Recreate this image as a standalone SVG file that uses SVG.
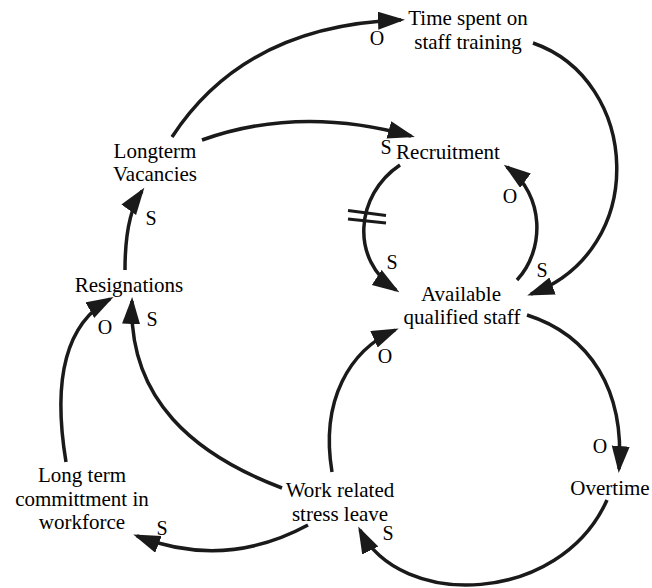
<svg xmlns="http://www.w3.org/2000/svg" width="652" height="588" viewBox="0 0 652 588" font-family="Liberation Serif, Times New Roman, serif">
<defs>
<style>
text{font-family:Liberation Serif, Times New Roman, serif;font-size:21px;fill:#000;text-anchor:middle}
.lbl{font-size:20px}
.c{fill:none;stroke:#1a1a1a;stroke-width:3.5;marker-end:url(#ah)}
.h{stroke:#1a1a1a;stroke-width:3}
</style>
<marker id="ah" markerUnits="userSpaceOnUse" markerWidth="28" markerHeight="20" refX="23" refY="9" orient="auto">
<path d="M0,0 L27,9 L0,18 z" fill="#1a1a1a"/>
</marker>
</defs>
<rect width="652" height="588" fill="#fff"/>
<g id="connectors">
<path class="c" d="M172,137 Q245,25 401,20"/>
<path class="c" d="M202,140 Q300,105 411,136"/>
<path class="c" d="M125,270 Q125,215 142,191"/>
<path class="c" d="M66,462 Q45,335 110,299"/>
<path class="c" d="M282,488 C195,455 128,400 132,301"/>
<path class="c" d="M308,525 Q225,570 137,536"/>
<path class="c" d="M400,165 C355,195 350,260 396,290"/>
<path class="c" d="M517,280 C545,250 545,195 507,167"/>
<path class="c" d="M533,43 C640,80 650,250 531,294"/>
<path class="c" d="M527,315 C590,335 625,390 619,469"/>
<path class="c" d="M607,500 C560,605 400,610 360,530"/>
<path class="c" d="M332,472 C320,400 350,350 395,330"/>
<line class="h" x1="348" y1="210.5" x2="386" y2="215.5"/>
<line class="h" x1="348" y1="219" x2="386" y2="223"/>
</g>
<g id="labels">
<text class="lbl" x="377" y="45">O</text>
<text class="lbl" x="386" y="154">S</text>
<text class="lbl" x="510" y="203">O</text>
<text class="lbl" x="392" y="269">S</text>
<text class="lbl" x="542" y="277">S</text>
<text class="lbl" x="151" y="225">S</text>
<text class="lbl" x="105" y="334">O</text>
<text class="lbl" x="152" y="326">S</text>
<text class="lbl" x="162" y="535">S</text>
<text class="lbl" x="385" y="363">O</text>
<text class="lbl" x="600" y="453">O</text>
<text class="lbl" x="388" y="540">S</text>
</g>
<g id="time-spent"><text x="468" y="25">Time spent on</text><text x="468" y="49">staff training</text></g>
<g id="longterm-vacancies"><text x="155" y="158">Longterm</text><text x="155" y="181">Vacancies</text></g>
<g id="recruitment"><text x="448" y="159">Recruitment</text></g>
<g id="available"><text x="461" y="301">Available</text><text x="462" y="324">qualified staff</text></g>
<g id="resignations"><text x="129" y="292">Resignations</text></g>
<g id="long-term-commitment"><text x="82" y="482">Long term</text><text x="82" y="506">committment in</text><text x="82" y="529">workforce</text></g>
<g id="work-stress"><text x="340" y="497">Work related</text><text x="340" y="521">stress leave</text></g>
<g id="overtime"><text x="610" y="495">Overtime</text></g>
</svg>
